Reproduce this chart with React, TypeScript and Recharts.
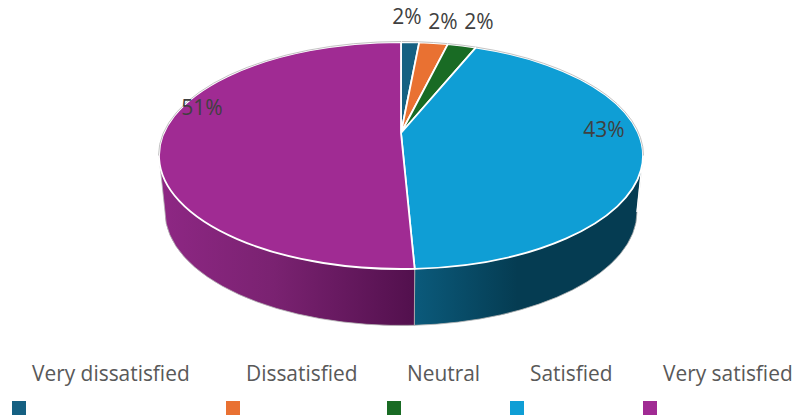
import React from "react";
import { PieChart, Pie, Legend } from "recharts";

const categories = ["Very dissatisfied", "Dissatisfied", "Neutral", "Satisfied", "Very satisfied"];
// slice sizes as measured on the tilted picture, the printed labels are kept apart
const sliceValues = [1.2, 1.9, 1.9, 44.1, 50.9];
const percentLabels = ["2%", "2%", "2%", "43%", "51%"];
const colors = ["#156082", "#E97132", "#196B24", "#0F9ED5", "#A02B93"];
const wallLight = ["#156082", "#E97132", "#196B24", "#0B5A7B", "#8E2784"];
const wallDark = ["#0B3041", "#753919", "#0D3612", "#053C52", "#52104D"];

const FONT = "'Open Sans', sans-serif";
const RIM = "#b4b4b4";

// layout of the tilted disc
const APEX_X = 401;
const APEX_Y = 133;
const RX = 242;
const RY = 113.5;
const TOP_SHIFT = 22.5; // ellipse centre sits below the apex
const BOTTOM_RX = 236;
const BOTTOM_SHIFT = 79;

const labelOffsets = [
  [6, -117],
  [42, -112],
  [78, -112],
  [203, -4],
  [-199, -26],
];
const legendX = [12, 226, 387, 510, 643];

const data = categories.map((name, i) => ({ name, value: sliceValues[i], fill: colors[i], index: i }));

const point = (cx: number, cy: number, rx: number, ry: number, deg: number) => {
  const a = (deg * Math.PI) / 180;
  return [cx + rx * Math.sin(a), cy - ry * Math.cos(a)];
};

const TopSlice = (props: any) => {
  const { cx, cy, startAngle, endAngle, fill } = props;
  const t1 = 90 - startAngle;
  const t2 = 90 - endAngle;
  const [x1, y1] = point(cx, cy + TOP_SHIFT, RX, RY, t1);
  const [x2, y2] = point(cx, cy + TOP_SHIFT, RX, RY, t2);
  const large = t2 - t1 > 180 ? 1 : 0;
  const d = `M${cx},${cy}L${x1},${y1}A${RX},${RY} 0 ${large} 1 ${x2},${y2}Z`;
  // grey rim only on the back half, the front half shows the white edge over the wall
  const rimFrom = t1 < 90 ? t1 : Math.max(t1, 270);
  const rimTo = t1 < 90 ? Math.min(t2, 90) : t2;
  const [rx1, ry1] = point(cx, cy + TOP_SHIFT, RX + 0.5, RY + 0.5, rimFrom);
  const [rx2, ry2] = point(cx, cy + TOP_SHIFT, RX + 0.5, RY + 0.5, rimTo);
  return (
    <g>
      <path d={d} fill={fill} stroke="#fff" strokeWidth={1.8} strokeLinejoin="round" />
      <path d={`M${rx1},${ry1}A${RX + 0.5},${RY + 0.5} 0 0 1 ${rx2},${ry2}`} fill="none" stroke={RIM} strokeWidth={0.8} />
    </g>
  );
};

const WallSlice = (props: any) => {
  const { cx, cy, startAngle, endAngle, payload } = props;
  const t1 = Math.max(90 - startAngle, 90);
  const t2 = Math.min(90 - endAngle, 270);
  if (t2 <= t1) return <g />;
  const [x1, y1] = point(cx, cy + TOP_SHIFT, RX, RY, t1);
  const [x2, y2] = point(cx, cy + TOP_SHIFT, RX, RY, t2);
  const [x3, y3] = point(cx, cy + BOTTOM_SHIFT, BOTTOM_RX, RY, t2);
  const [x4, y4] = point(cx, cy + BOTTOM_SHIFT, BOTTOM_RX, RY, t1);
  const id = `wall-${payload.index}`;
  const d = `M${x1},${y1}A${RX},${RY} 0 0 1 ${x2},${y2}L${x3},${y3}A${BOTTOM_RX},${RY} 0 0 0 ${x4},${y4}Z`;
  // purple runs dark towards the front, blue starts lighter at the front
  const front = Math.abs(x1 - cx) < Math.abs(x2 - cx) ? x1 : x2;
  const back = front === x1 ? x2 : x1;
  const isLeft = back < cx;
  return (
    <g>
      <defs>
        <linearGradient id={id} gradientUnits="userSpaceOnUse" x1={back} x2={front} y1={0} y2={0}>
          <stop offset="0%" stopColor={isLeft ? wallLight[payload.index] : wallDark[payload.index]} />
          <stop offset={isLeft ? "45%" : "55%"} stopColor={isLeft ? "#7A2271" : wallDark[payload.index]} />
          <stop offset="100%" stopColor={isLeft ? wallDark[payload.index] : wallLight[payload.index]} />
        </linearGradient>
      </defs>
      <path d={d} fill={`url(#${id})`} stroke={RIM} strokeWidth={0.8} />
      {isLeft ? null : <line x1={x1} y1={y1} x2={x4} y2={y4} stroke="#fff" strokeWidth={1.5} />}
    </g>
  );
};

const renderLabel = (props: any) => {
  const { cx, cy, index } = props;
  return (
    <text
      x={cx + labelOffsets[index][0]}
      y={cy + labelOffsets[index][1]}
      textAnchor="middle"
      dominantBaseline="central"
      fill="#404040"
      fontFamily={FONT}
      fontSize={21}
    >
      {percentLabels[index]}
    </text>
  );
};

const renderLegend = () => (
  <div style={{ position: "relative", width: 796, height: 419, fontFamily: FONT, fontSize: 20.9, color: "#595959" }}>
    {categories.map((name, i) => (
      <React.Fragment key={name}>
        <span style={{ position: "absolute", left: legendX[i] + 20, top: 359, lineHeight: "28px", whiteSpace: "nowrap" }}>
          {name}
        </span>
        <span style={{ position: "absolute", left: legendX[i], top: 401, width: 14, height: 14, background: colors[i] }} />
      </React.Fragment>
    ))}
  </div>
);

export default function App() {
  return (
    <div style={{ position: "absolute", left: 0, top: 0, width: 796, height: 419, background: "#fff" }}>
      <PieChart width={796} height={419} margin={{ top: 0, right: 0, bottom: 0, left: 0 }}>
        <Pie
          data={data}
          dataKey="value"
          nameKey="name"
          cx={APEX_X}
          cy={APEX_Y}
          outerRadius={RX}
          startAngle={90}
          endAngle={-270}
          stroke="none"
          legendType="none"
          shape={WallSlice}
          isAnimationActive={false}
        />
        <Pie
          data={data}
          dataKey="value"
          nameKey="name"
          cx={APEX_X}
          cy={APEX_Y}
          outerRadius={RX}
          startAngle={90}
          endAngle={-270}
          shape={TopSlice}
          label={renderLabel}
          labelLine={false}
          isAnimationActive={false}
        />
        <Legend content={renderLegend} wrapperStyle={{ left: 0, top: 0, width: 796, height: 419, pointerEvents: "none" }} />
      </PieChart>
    </div>
  );
}
